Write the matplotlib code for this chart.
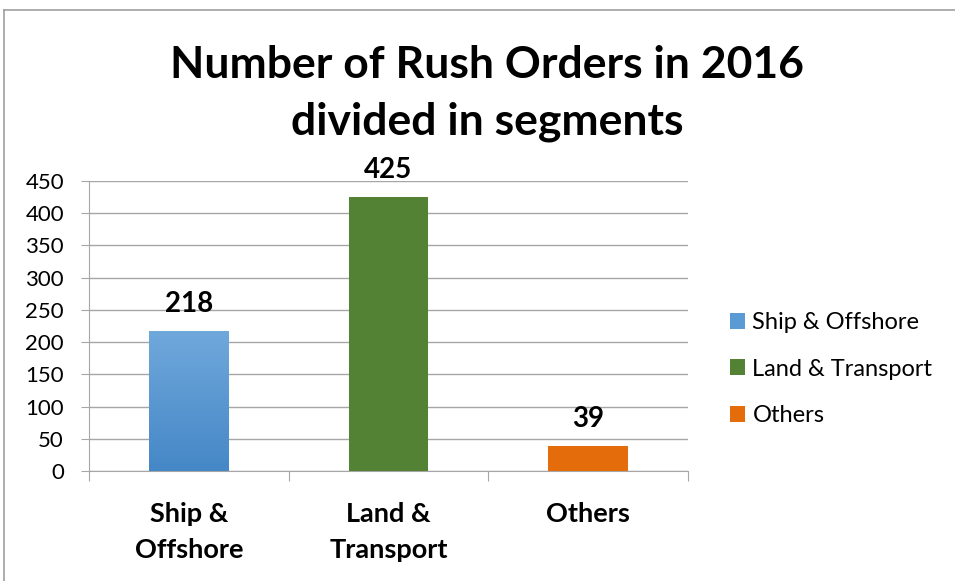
import matplotlib
matplotlib.use("Agg")
import matplotlib.pyplot as plt
import numpy as np
from matplotlib.lines import Line2D
from matplotlib.patches import Patch

categories = ["Ship &\nOffshore", "Land &\nTransport", "Others"]
legend_labels = ["Ship & Offshore", "Land & Transport", "Others"]
values = [218, 425, 39]
colors = ["#5B9BD5", "#548235", "#E46C0A"]
yticks = [0, 50, 100, 150, 200, 250, 300, 350, 400, 450]

plt.rcParams['font.family'] = ['Lato', 'DejaVu Sans']

fig = plt.figure(figsize=(9.55, 5.81), dpi=100)
ax = fig.add_axes([89/955, 110/581, (688-89)/955, 290/581])

x = np.arange(len(values))
bars = ax.bar(x, values, width=0.4, color=colors, zorder=3)

# gradient on first bar
b = bars[0]
bx, by = b.get_x(), b.get_y()
bw, bh = b.get_width(), b.get_height()
top = np.array([0.44, 0.66, 0.86])
bot = np.array([0.27, 0.53, 0.78])
t = np.linspace(0, 1, 256)[:, None]
grad = (bot[None, :] * (1 - t) + top[None, :] * t)[:, None, :]
im = ax.imshow(grad, extent=[bx, bx + bw, by, by + bh], origin='lower',
               aspect='auto', zorder=4)
im.set_clip_path(b)

ax.set_xlim(-0.5, len(values) - 0.5)
ax.set_ylim(0, 450)
ax.set_yticks(yticks)
ax.set_yticklabels([str(v) for v in yticks], fontsize=16)
ax.grid(axis='y', color='#A6A6A6', linewidth=1.0, zorder=0)
ax.set_axisbelow(True)

for s in ['top', 'right']:
    ax.spines[s].set_visible(False)
ax.spines['left'].set_color('#A6A6A6')
ax.spines['bottom'].set_color('#A6A6A6')
ax.tick_params(axis='y', length=6, color='#A6A6A6', pad=12)

# x ticks at category boundaries (major) with labels at centers (minor)
ax.set_xticks(np.arange(-0.5, len(values), 1.0))
ax.set_xticklabels([])
ax.tick_params(axis='x', which='major', length=7, color='#A6A6A6', direction='out')
ax.set_xticks(x, minor=True)
ax.set_xticklabels(categories, minor=True, fontsize=19.5, fontweight='bold',
                   linespacing=1.6)
ax.tick_params(axis='x', which='minor', length=0, pad=22)

for xi, v in zip(x, values):
    ax.annotate(str(v), (xi, v), xytext=(0, 10), textcoords='offset points',
                ha='center', va='bottom', fontsize=20, fontweight='bold')

fig.text(487/955, 1 - 93/581, "Number of Rush Orders in 2016\ndivided in segments",
         ha='center', va='center', fontsize=32, fontweight='bold', linespacing=1.5)

handles = [Patch(facecolor=c) for c in colors]
fig.legend(handles, legend_labels, loc='center left',
           bbox_to_anchor=(709/955, 1 - 369/581), frameon=False, fontsize=17,
           handlelength=0.64, handleheight=0.64, handletextpad=0.3,
           labelspacing=1.08)

# outer frame (top and left edges visible)
fig.add_artist(Line2D([4/955, 1.0], [1 - 10/581, 1 - 10/581],
                      transform=fig.transFigure, color='#A0A0A0', lw=1.2))
fig.add_artist(Line2D([4/955, 4/955], [0, 1 - 10/581],
                      transform=fig.transFigure, color='#A0A0A0', lw=1.2))

fig.savefig("out.png", dpi=100)
